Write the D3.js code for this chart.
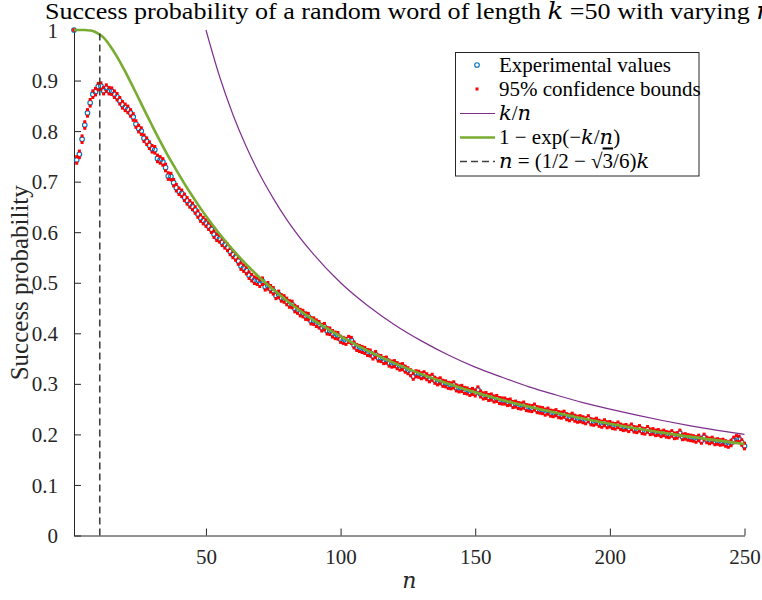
<!DOCTYPE html>
<html>
<head>
<meta charset="utf-8">
<script src="https://cdn.jsdelivr.net/npm/d3@7"></script>
<style>
  body { margin: 0; background: #fff; }
  svg { display: block; font-family: "Liberation Serif", "DejaVu Serif", serif; }
  .it { font-family: "DejaVu Serif", serif; font-style: italic; }
</style>
</head>
<body>
<script>
(function() {

// experimental success rate, one value per word length n = 1..250 (k = 50)
var expValues = [
  1.000, 0.743, 0.754, 0.784, 0.812, 0.836, 0.856, 0.873, 0.878, 0.888,
  0.889, 0.880, 0.885, 0.880, 0.879, 0.873, 0.868, 0.860, 0.852, 0.847,
  0.843, 0.836, 0.828, 0.814, 0.805, 0.800, 0.786, 0.780, 0.772, 0.765,
  0.763, 0.746, 0.743, 0.739, 0.728, 0.711, 0.710, 0.698, 0.688, 0.681,
  0.677, 0.669, 0.662, 0.656, 0.651, 0.644, 0.636, 0.628, 0.623, 0.618,
  0.612, 0.606, 0.596, 0.590, 0.587, 0.580, 0.575, 0.570, 0.562, 0.556,
  0.551, 0.543, 0.533, 0.529, 0.524, 0.515, 0.510, 0.505, 0.503, 0.499,
  0.503, 0.492, 0.494, 0.488, 0.484, 0.475, 0.477, 0.470, 0.468, 0.463,
  0.458, 0.457, 0.449, 0.446, 0.441, 0.439, 0.434, 0.433, 0.425, 0.424,
  0.420, 0.417, 0.411, 0.413, 0.405, 0.404, 0.399, 0.396, 0.395, 0.388,
  0.386, 0.384, 0.388, 0.386, 0.377, 0.372, 0.370, 0.368, 0.366, 0.362,
  0.361, 0.355, 0.358, 0.351, 0.350, 0.346, 0.347, 0.341, 0.339, 0.340,
  0.336, 0.333, 0.334, 0.329, 0.326, 0.322, 0.315, 0.320, 0.319, 0.316,
  0.318, 0.314, 0.310, 0.313, 0.307, 0.304, 0.306, 0.301, 0.300, 0.297,
  0.296, 0.298, 0.292, 0.290, 0.291, 0.287, 0.286, 0.283, 0.285, 0.282,
  0.288, 0.280, 0.276, 0.277, 0.273, 0.274, 0.270, 0.271, 0.267, 0.266,
  0.266, 0.263, 0.264, 0.259, 0.260, 0.257, 0.256, 0.258, 0.253, 0.252,
  0.251, 0.254, 0.249, 0.248, 0.247, 0.244, 0.246, 0.242, 0.241, 0.243,
  0.239, 0.238, 0.240, 0.235, 0.233, 0.236, 0.232, 0.230, 0.231, 0.229,
  0.227, 0.231, 0.225, 0.224, 0.226, 0.222, 0.220, 0.223, 0.219, 0.220,
  0.217, 0.216, 0.219, 0.215, 0.213, 0.214, 0.211, 0.215, 0.210, 0.209,
  0.212, 0.207, 0.206, 0.210, 0.205, 0.206, 0.203, 0.204, 0.201, 0.203,
  0.200, 0.199, 0.202, 0.197, 0.198, 0.203, 0.195, 0.196, 0.194, 0.193,
  0.192, 0.190, 0.193, 0.188, 0.195, 0.189, 0.187, 0.189, 0.185, 0.186,
  0.184, 0.185, 0.182, 0.180, 0.183, 0.189, 0.192, 0.191, 0.184, 0.177
];

// half width of the 95% interval, read per range of n (starting at ciFrom)
var ciFrom = [1, 2, 100, 200];
var ciHalf = [0, 0.0065, 0.006, 0.0055];

// k/n curve, read at these n
var knN   = [50, 55, 60, 65, 70, 75, 80, 90, 100, 110, 120, 130, 140, 150,
             160, 170, 180, 190, 200, 210, 220, 230, 240, 250];
var knVal = [1.000, 0.909, 0.833, 0.769, 0.714, 0.667, 0.625, 0.556, 0.500,
             0.455, 0.417, 0.385, 0.357, 0.333, 0.313, 0.294, 0.278, 0.263,
             0.250, 0.238, 0.227, 0.217, 0.208, 0.200];

// 1 - exp(-k/n) curve, read at these n
var expN   = [1, 3, 5, 7, 8, 10, 12, 15, 17, 20, 22, 25, 27, 30, 32, 35, 37,
              40, 42, 45, 47, 50, 55, 60, 70, 80, 90, 100, 120, 140, 160,
              180, 200, 225, 250];
var expCur = [1.000, 1.000, 1.000, 0.999, 0.998, 0.993, 0.985, 0.964, 0.947,
              0.918, 0.897, 0.865, 0.843, 0.811, 0.790, 0.760, 0.741, 0.714,
              0.696, 0.671, 0.655, 0.632, 0.597, 0.565, 0.510, 0.465, 0.426,
              0.394, 0.341, 0.300, 0.268, 0.243, 0.221, 0.199, 0.181];

// n = (1/2 - sqrt(3)/6) k
var critN = 10.57;

var xTicks = [50, 100, 150, 200, 250];
var yTicks = [0, 0.1, 0.2, 0.3, 0.4, 0.5, 0.6, 0.7, 0.8, 0.9, 1];

var width = 762, height = 600,
    left = 74, right = 744.5, top = 30, bottom = 535.5,
    axisCol = "#262626";

var svg = d3.select("body").append("svg")
  .attr("width", width)
  .attr("height", height);

var x = d3.scaleLinear().domain([1, 250]).range([left, right]);
var y = d3.scaleLinear().domain([0, 1]).range([bottom, top]);

var pts = expValues.map(function(v, i) {
  var n = i + 1,
      h = ciHalf[d3.bisectRight(ciFrom, n) - 1];
  return { n: n, v: v, lo: v - h, hi: v + h };
});

// axes
var xAxis = svg.append("g")
  .attr("transform", "translate(0," + bottom + ")")
  .call(d3.axisBottom(x).tickValues(xTicks).tickSizeInner(-7).tickSizeOuter(0).tickPadding(14));
var yAxis = svg.append("g")
  .attr("transform", "translate(" + left + ",0)")
  .call(d3.axisLeft(y).tickValues(yTicks).tickFormat(d3.format(".1~f"))
        .tickSizeInner(-7).tickSizeOuter(0).tickPadding(16));

[xAxis, yAxis].forEach(function(g) {
  g.selectAll("path, line").attr("stroke", axisCol);
  g.selectAll("text")
    .attr("fill", axisCol)
    .style("font-family", "Liberation Serif, serif")
    .style("font-size", "21px");
});
xAxis.selectAll("text").attr("dy", "0.71em");
yAxis.selectAll("text").attr("dy", "0.34em");

// experimental circles
svg.append("g").selectAll("circle")
  .data(pts).enter().append("circle")
    .attr("cx", function(d) { return x(d.n); })
    .attr("cy", function(d) { return y(d.v); })
    .attr("r", 2.3)
    .attr("fill", "none")
    .attr("stroke", "#0072BD")
    .attr("stroke-width", 1.1);

// confidence bounds
var ci = [];
pts.forEach(function(d) {
  ci.push([d.n, d.lo]);
  ci.push([d.n, d.hi]);
});
svg.append("g").selectAll("rect")
  .data(ci).enter().append("rect")
    .attr("x", function(d) { return x(d[0]) - 1.5; })
    .attr("y", function(d) { return y(d[1]) - 1.5; })
    .attr("width", 3)
    .attr("height", 3)
    .attr("fill", "#FF0000");

var line = d3.line()
  .x(function(d) { return x(d[0]); })
  .y(function(d) { return y(d[1]); })
  .curve(d3.curveMonotoneX);

svg.append("path")
  .datum(d3.zip(knN, knVal))
  .attr("d", line)
  .attr("fill", "none")
  .attr("stroke", "#7E2F8E")
  .attr("stroke-width", 1.2);

svg.append("path")
  .datum(d3.zip(expN, expCur))
  .attr("d", line)
  .attr("fill", "none")
  .attr("stroke", "#77AC30")
  .attr("stroke-width", 2.6);

svg.append("line")
  .attr("x1", x(critN)).attr("x2", x(critN))
  .attr("y1", y(0)).attr("y2", y(1))
  .attr("stroke", "#404040")
  .attr("stroke-width", 1.6)
  .attr("stroke-dasharray", "7,4");

// title (runs past the right edge, as in the original)
svg.append("text")
  .attr("x", 45)
  .attr("y", 19)
  .attr("textLength", 728)
  .attr("lengthAdjust", "spacingAndGlyphs")
  .style("font-size", "24px")
  .attr("fill", "#000")
  .html('Success probability of a random word of length <tspan class="it">k</tspan> =50 with varying <tspan class="it">n</tspan>');

svg.append("text")
  .attr("transform", "translate(28," + ((top + bottom) / 2) + ") rotate(-90)")
  .attr("text-anchor", "middle")
  .style("font-size", "25px")
  .attr("fill", axisCol)
  .text("Success probability");

svg.append("text")
  .attr("class", "it")
  .attr("x", (left + right) / 2)
  .attr("y", 588)
  .attr("text-anchor", "middle")
  .style("font-size", "22px")
  .attr("fill", axisCol)
  .text("n");

// legend
var lg = svg.append("g");
lg.append("rect")
  .attr("x", 455.5).attr("y", 52.5)
  .attr("width", 243.5).attr("height", 123.5)
  .attr("fill", "#fff")
  .attr("stroke", axisCol)
  .attr("stroke-width", 1);

var rowY = [65, 89, 113.5, 137.5, 161.5],
    tx = 499;

lg.append("circle")
  .attr("cx", 477).attr("cy", rowY[0]).attr("r", 2.3)
  .attr("fill", "none").attr("stroke", "#0072BD").attr("stroke-width", 1.1);
lg.append("rect")
  .attr("x", 475.5).attr("y", rowY[1] - 1.5).attr("width", 3).attr("height", 3)
  .attr("fill", "#FF0000");
lg.append("line")
  .attr("x1", 460).attr("x2", 495).attr("y1", rowY[2]).attr("y2", rowY[2])
  .attr("stroke", "#7E2F8E").attr("stroke-width", 1.2);
lg.append("line")
  .attr("x1", 460).attr("x2", 495).attr("y1", rowY[3]).attr("y2", rowY[3])
  .attr("stroke", "#77AC30").attr("stroke-width", 2.6);
lg.append("line")
  .attr("x1", 460).attr("x2", 495).attr("y1", rowY[4]).attr("y2", rowY[4])
  .attr("stroke", "#404040").attr("stroke-width", 1.6).attr("stroke-dasharray", "7,4");

var labels = [
  'Experimental values',
  '95% confidence bounds',
  '<tspan class="it">k</tspan>/<tspan class="it">n</tspan>',
  '1 − exp(−<tspan class="it">k</tspan>/<tspan class="it">n</tspan>)',
  '<tspan class="it">n</tspan> = (1/2 − √<tspan style="text-decoration: overline">3</tspan>/6)<tspan class="it">k</tspan>'
];

lg.selectAll("text.lab")
  .data(labels).enter().append("text")
    .attr("class", "lab")
    .attr("x", tx)
    .attr("y", function(d, i) { return rowY[i]; })
    .attr("dy", "0.33em")
    .style("font-size", "21px")
    .attr("fill", "#000")
    .html(function(d) { return d; });

})();
</script>
</body>
</html>
